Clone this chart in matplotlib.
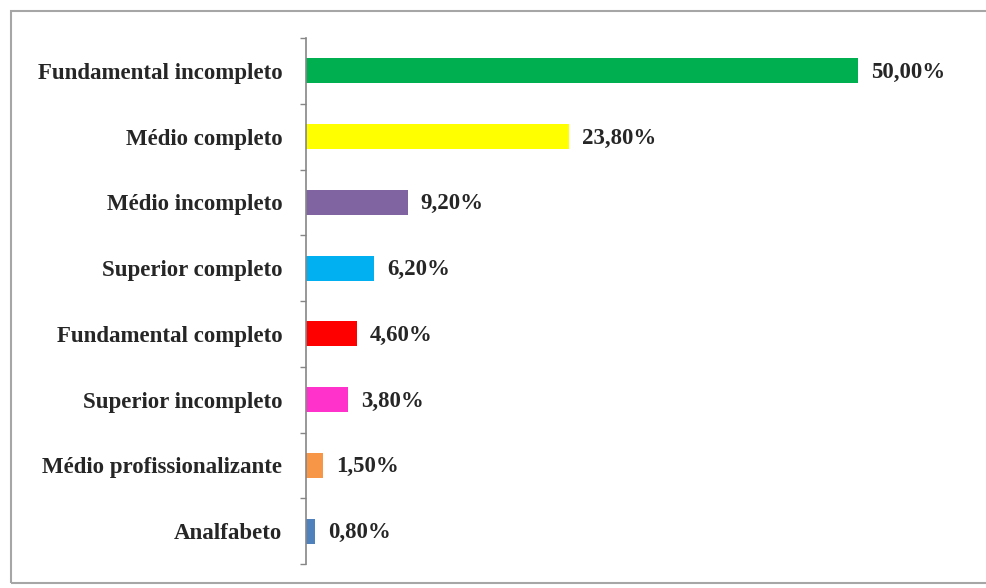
import matplotlib.pyplot as plt
from matplotlib.patches import Rectangle

# Escolaridade - percentagens por nível
niveis = ["Fundamental incompleto", "Médio completo", "Médio incompleto",
          "Superior completo", "Fundamental completo", "Superior incompleto",
          "Médio profissionalizante", "Analfabeto"]
percentagens = [50.00, 23.80, 9.20, 6.20, 4.60, 3.80, 1.50, 0.80]
rotulos = ["50,00%", "23,80%", "9,20%", "6,20%", "4,60%", "3,80%", "1,50%", "0,80%"]
cores = ["#00B050", "#FFFF00", "#8064A2", "#00B0F0", "#FF0000", "#FF33CC",
         "#F79646", "#4F81BD"]

plt.rcParams['font.family'] = ['Liberation Serif', 'DejaVu Serif']

fig = plt.figure(figsize=(9.87, 5.88), dpi=100)

# moldura cinzenta à volta do gráfico
moldura = Rectangle((11 / 987, 5 / 588), 1.0, 1 - 16 / 588, transform=fig.transFigure,
                    fill=False, edgecolor="#a6a6a6", linewidth=1.5)
fig.patches.append(moldura)

ax = fig.add_axes([306 / 987, 24 / 588, (913 - 306) / 987, (564 - 38) / 588])

y = list(range(len(niveis)))
ax.barh(y, percentagens, height=0.38, color=cores)

for yi, v, r in zip(y, percentagens, rotulos):
    ax.annotate(r, (v, yi), xytext=(9.5, -1), textcoords="offset points",
                va="center", ha="left", fontsize=16.5, fontweight="bold", color="#262626")

ax.set_xlim(0, 55)
ax.set_ylim(len(niveis) - 0.5, -0.5)

ax.set_yticks(y)
ax.set_yticklabels(niveis, fontsize=16.5, fontweight="bold", color="#262626")
ax.tick_params(axis="y", which="major", length=0, pad=17)
ax.set_yticks([i - 0.5 for i in range(len(niveis) + 1)], minor=True)
ax.tick_params(axis="y", which="minor", length=4, color="#868686", width=1)
ax.set_xticks([])

for s in ["top", "right", "bottom"]:
    ax.spines[s].set_visible(False)
ax.spines["left"].set_color("#868686")
ax.spines["left"].set_linewidth(1.2)

fig.savefig("out.png", dpi=100)
